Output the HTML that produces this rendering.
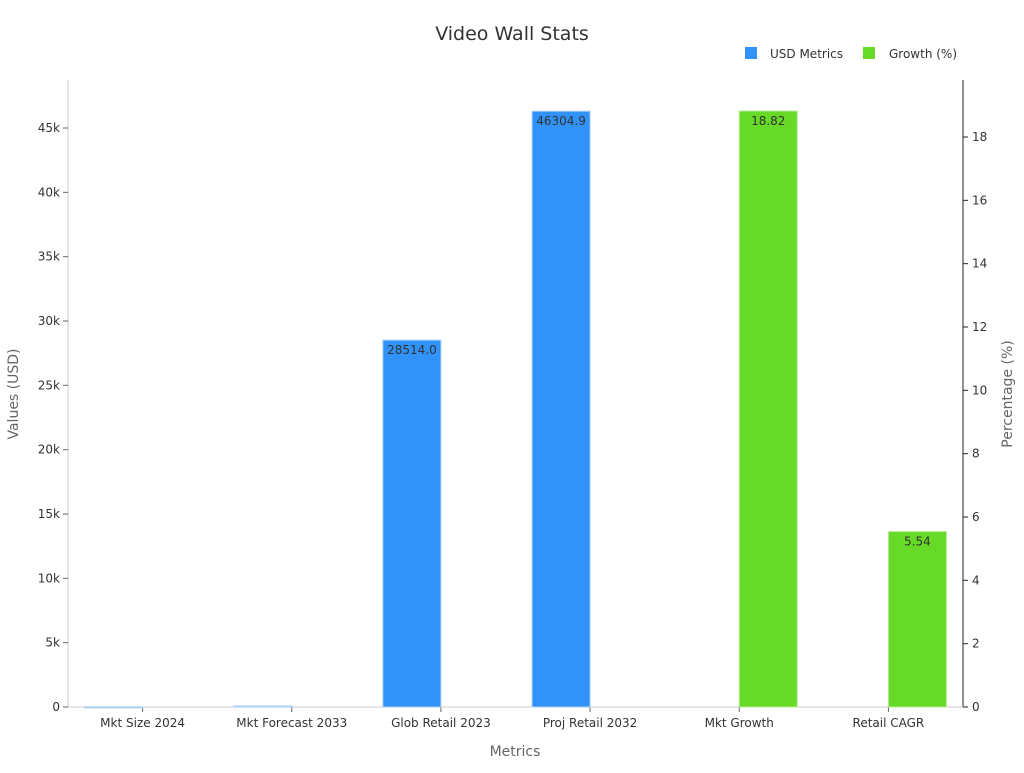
<!DOCTYPE html>
<html><head><meta charset="utf-8"><style>
body{margin:0;background:#fff;font-family:"Liberation Sans","DejaVu Sans",sans-serif;}
svg text{font-family:"DejaVu Sans","Liberation Sans",sans-serif;}
</style></head><body>
<svg id="chart" width="1024" height="768" xmlns="http://www.w3.org/2000/svg">
<text x="512" y="40" text-anchor="middle" font-size="19" fill="#333">Video Wall Stats</text>
<g>
<rect x="745" y="47" width="12" height="12" fill="#3193f9"/>
<text x="770" y="58" font-size="12" fill="#333">USD Metrics</text>
<rect x="863" y="47" width="12" height="12" fill="#66da26"/>
<text x="889" y="58" font-size="12" fill="#333">Growth (%)</text>
</g>
<g id="axes"></g>
<g id="bars"></g>
<text x="515" y="756" text-anchor="middle" font-size="14" fill="#666">Metrics</text>
<text transform="translate(18,394) rotate(-90)" text-anchor="middle" font-size="14" fill="#666">Values (USD)</text>
<text transform="translate(1012,394) rotate(-90)" text-anchor="middle" font-size="14" fill="#666">Percentage (%)</text>
</svg>
<script>
const categories=["Mkt Size 2024","Mkt Forecast 2033","Glob Retail 2023","Proj Retail 2032","Mkt Growth","Retail CAGR"];
const usdValues=[12.3,77.9,28514.0,46304.9,null,null];
const growthValues=[null,null,null,null,18.82,5.54];
const leftTicks=[0,5000,10000,15000,20000,25000,30000,35000,40000,45000];
const leftTickLabels=["0","5k","10k","15k","20k","25k","30k","35k","40k","45k"];
const rightTicks=[0,2,4,6,8,10,12,14,16,18];

const NS="http://www.w3.org/2000/svg";
const L=68,R=963,B=707,T=80;
const band=(R-L)/categories.length;
const xC=i=>L+band*(i+0.5);
const yL=v=>B-v*(579/45000);
const yR=v=>B-v*(570/18);
const bw=58;
function mk(tag,attrs,parent){const e=document.createElementNS(NS,tag);for(const k in attrs)e.setAttribute(k,attrs[k]);parent.appendChild(e);return e;}
const ax=document.getElementById('axes'),bars=document.getElementById('bars');
let e=mk('line',{x1:L,y1:T,x2:L,y2:B,stroke:'#ccc'},ax);


e=mk('line',{x1:R,y1:T,x2:R,y2:B,stroke:'#222'},ax);


e=mk('line',{x1:L,y1:B,x2:R,y2:B,stroke:'#ccc'},ax);


leftTicks.forEach((v,i)=>{const y=yL(v);
mk('line',{x1:L-5,y1:y,x2:L,y2:y,stroke:'#666'},ax);
const t=mk('text',{x:L-8,y:y+4,'text-anchor':'end','font-size':12,fill:'#333'},ax);t.textContent=leftTickLabels[i];

});
rightTicks.forEach(v=>{const y=yR(v);
mk('line',{x1:R,y1:y,x2:R+5,y2:y,stroke:'#222'},ax);
const t=mk('text',{x:R+9,y:y+4,'font-size':12,fill:'#333'},ax);t.textContent=String(v);

});
categories.forEach((c,i)=>{const x=xC(i);
mk('line',{x1:x,y1:B,x2:x,y2:B+5,stroke:'#666'},ax);
const t=mk('text',{x:x,y:B+20,'text-anchor':'middle','font-size':12,fill:'#333'},ax);t.textContent=c;


if(usdValues[i]!=null){const y=yL(usdValues[i]);
const r=mk('rect',{x:x-bw,y:y,width:bw,height:Math.max(B-y,1),fill:'#3193f9',stroke:'#a8d0f5','stroke-width':1},bars);


if(B-y>20){const l=mk('text',{x:x-bw/2,y:y+14,'text-anchor':'middle','font-size':12,fill:'#333'},bars);l.textContent=usdValues[i].toFixed(1);

}}
if(growthValues[i]!=null){const y=yR(growthValues[i]);
const r=mk('rect',{x:x,y:y,width:bw,height:B-y,fill:'#66da26',stroke:'#b5ec96','stroke-width':1},bars);


const l=mk('text',{x:x+bw/2,y:y+14,'text-anchor':'middle','font-size':12,fill:'#333'},bars);l.textContent=growthValues[i].toFixed(2);

}
});
</script>
</body></html>
